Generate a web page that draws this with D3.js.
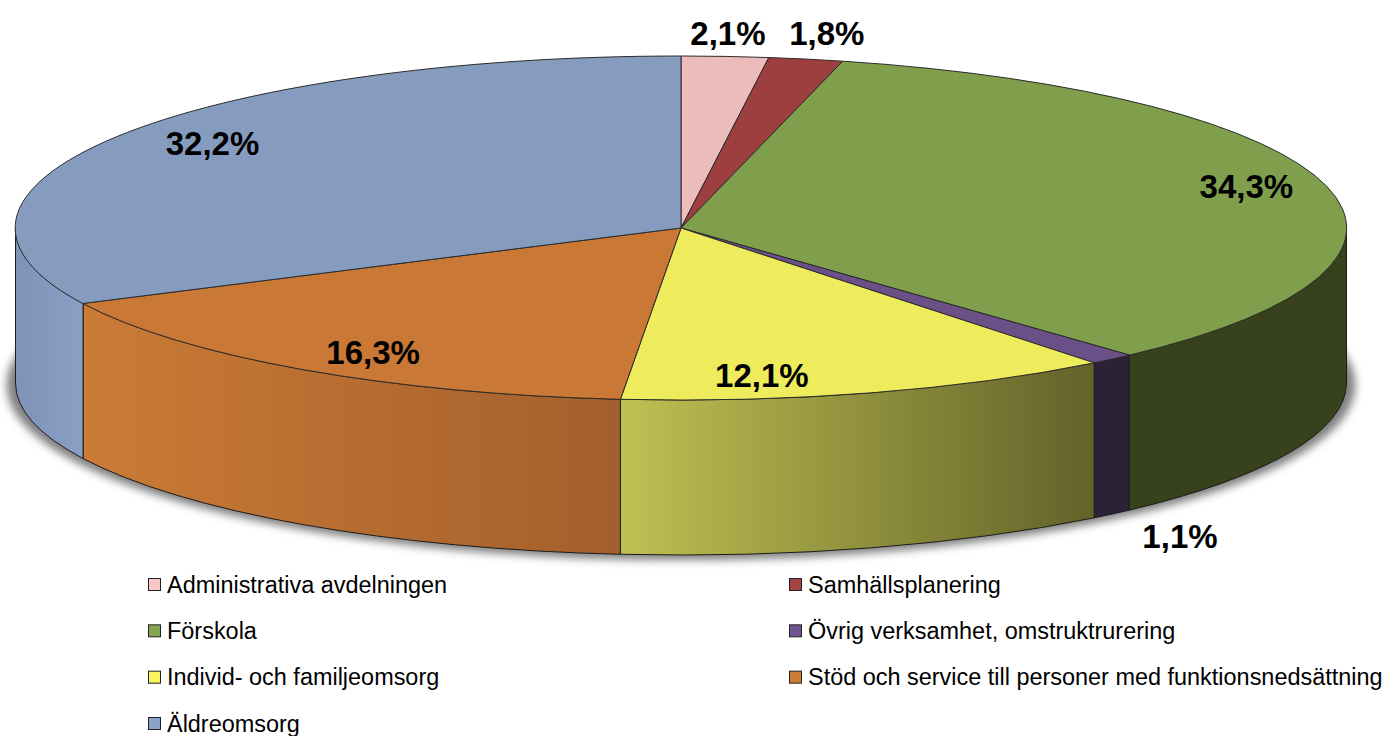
<!DOCTYPE html>
<html>
<head>
<meta charset="utf-8">
<script src="https://cdn.jsdelivr.net/npm/d3@7"></script>
<style>
  html, body { margin: 0; padding: 0; background: #fff; }
  svg { display: block; font-family: "Liberation Sans", Arial, sans-serif; }
</style>
</head>
<body>
<div id="chart"></div>
<script>
const categories = [
  "Administrativa avdelningen",
  "Samhällsplanering",
  "Förskola",
  "Övrig verksamhet, omstruktrurering",
  "Individ- och familjeomsorg",
  "Stöd och service till personer med funktionsnedsättning",
  "Äldreomsorg"
];
const shares = [2.1, 1.8, 34.3, 1.1, 12.1, 16.3, 32.2];
const topColors = ["#ecbcbc", "#9d3f3f", "#7f9f4d", "#6b5088", "#eeec5c", "#c97835", "#869cbf"];
const legendColors = ["#f8c8c8", "#a34343", "#84a54f", "#6f5392", "#f8f65c", "#d07c37", "#8ba2c8"];
// wall gradient, left colour then right colour
const wallLeft = ["#000", "#000", "#37421c", "#2b2238", "#c0c052", "#cb7b36", "#7e93b6"];
const wallRight = ["#000", "#000", "#37421c", "#2b2238", "#62622a", "#a35f2c", "#8a9fc4"];
// label shift from the rim point at the middle of each slice
const labelShift = [[3, -23], [21, -26], [-80, 1], [68, 177], [-109, -17], [70, -17], [96, 7]];

const width = 1387, height = 736;
const cx = 681, cy = 228, rx = 665.5, ry = 172, depth = 155;

const svg = d3.select("#chart").append("svg")
  .attr("width", width)
  .attr("height", height);

const defs = svg.append("defs");
defs.append("filter")
  .attr("id", "soft")
  .attr("x", "-5%").attr("y", "-20%").attr("width", "110%").attr("height", "140%")
  .append("feGaussianBlur")
  .attr("stdDeviation", 4);

const slices = d3.pie().sort(null).value(d => d)(shares)
  .map((d, i) => ({ ...d, i }));

const rimX = a => cx + rx * Math.sin(a);
const rimY = a => cy - ry * Math.cos(a);

// soft shadow under the cylinder
svg.append("ellipse")
  .attr("cx", cx)
  .attr("cy", cy + depth + 2)
  .attr("rx", rx + 9)
  .attr("ry", ry + 3)
  .attr("fill", "#808080")
  .attr("filter", "url(#soft)");

const wallPath = d => {
  const a0 = Math.max(d.startAngle, Math.PI / 2);
  const a1 = Math.min(d.endAngle, Math.PI * 1.5);
  const x0 = rimX(a0), y0 = rimY(a0), x1 = rimX(a1), y1 = rimY(a1);
  return `M${x0},${y0}A${rx},${ry} 0 0 1 ${x1},${y1}L${x1},${y1 + depth}A${rx},${ry} 0 0 0 ${x0},${y0 + depth}Z`;
};

const walls = slices.filter(d => d.endAngle > Math.PI / 2 && d.startAngle < Math.PI * 1.5);

walls.forEach(d => {
  const a0 = Math.max(d.startAngle, Math.PI / 2);
  const a1 = Math.min(d.endAngle, Math.PI * 1.5);
  const g = defs.append("linearGradient")
    .attr("id", "wall" + d.i)
    .attr("gradientUnits", "userSpaceOnUse")
    .attr("x1", rimX(a1)).attr("x2", rimX(a0))
    .attr("y1", 0).attr("y2", 0);
  g.append("stop").attr("offset", 0).attr("stop-color", wallLeft[d.i]);
  g.append("stop").attr("offset", 1).attr("stop-color", wallRight[d.i]);
});

svg.append("g")
  .selectAll("path")
  .data(walls)
  .join("path")
  .attr("d", wallPath)
  .attr("fill", d => `url(#wall${d.i})`)
  .attr("stroke", "#1c1c1c")
  .attr("stroke-width", 1);

const arc = d3.arc().innerRadius(0).outerRadius(1);

svg.append("g")
  .attr("transform", `translate(${cx},${cy}) scale(${rx},${ry})`)
  .selectAll("path")
  .data(slices)
  .join("path")
  .attr("d", arc)
  .attr("fill", d => topColors[d.i])
  .attr("stroke", "#2c2c2c")
  .attr("stroke-width", 1)
  .attr("vector-effect", "non-scaling-stroke");

// percent labels
svg.append("g")
  .selectAll("text")
  .data(slices)
  .join("text")
  .attr("x", d => rimX((d.startAngle + d.endAngle) / 2) + labelShift[d.i][0])
  .attr("y", d => rimY((d.startAngle + d.endAngle) / 2) + labelShift[d.i][1])
  .attr("text-anchor", "middle")
  .attr("dominant-baseline", "central")
  .attr("font-size", 33)
  .attr("font-weight", "bold")
  .attr("fill", "#000")
  .text(d => d.value.toFixed(1).replace(".", ",") + "%");

// legend, filled row by row in two columns
const legendRows = d3.scalePoint().domain([0, 1, 2, 3]).range([584.5, 723.5]);
const legendCols = d3.scalePoint().domain([0, 1]).range([148, 789]);

const legend = svg.append("g")
  .selectAll("g")
  .data(categories)
  .join("g")
  .attr("transform", (d, i) => `translate(${legendCols(i % 2)},${legendRows(Math.floor(i / 2))})`);

legend.append("rect")
  .attr("x", 0.5)
  .attr("y", -6)
  .attr("width", 12)
  .attr("height", 12)
  .attr("fill", (d, i) => legendColors[i])
  .attr("stroke", "#222")
  .attr("stroke-width", 1);

legend.append("text")
  .attr("x", 19)
  .attr("dominant-baseline", "central")
  .attr("font-size", 23.45)
  .attr("fill", "#000")
  .text(d => d);
</script>
</body>
</html>
